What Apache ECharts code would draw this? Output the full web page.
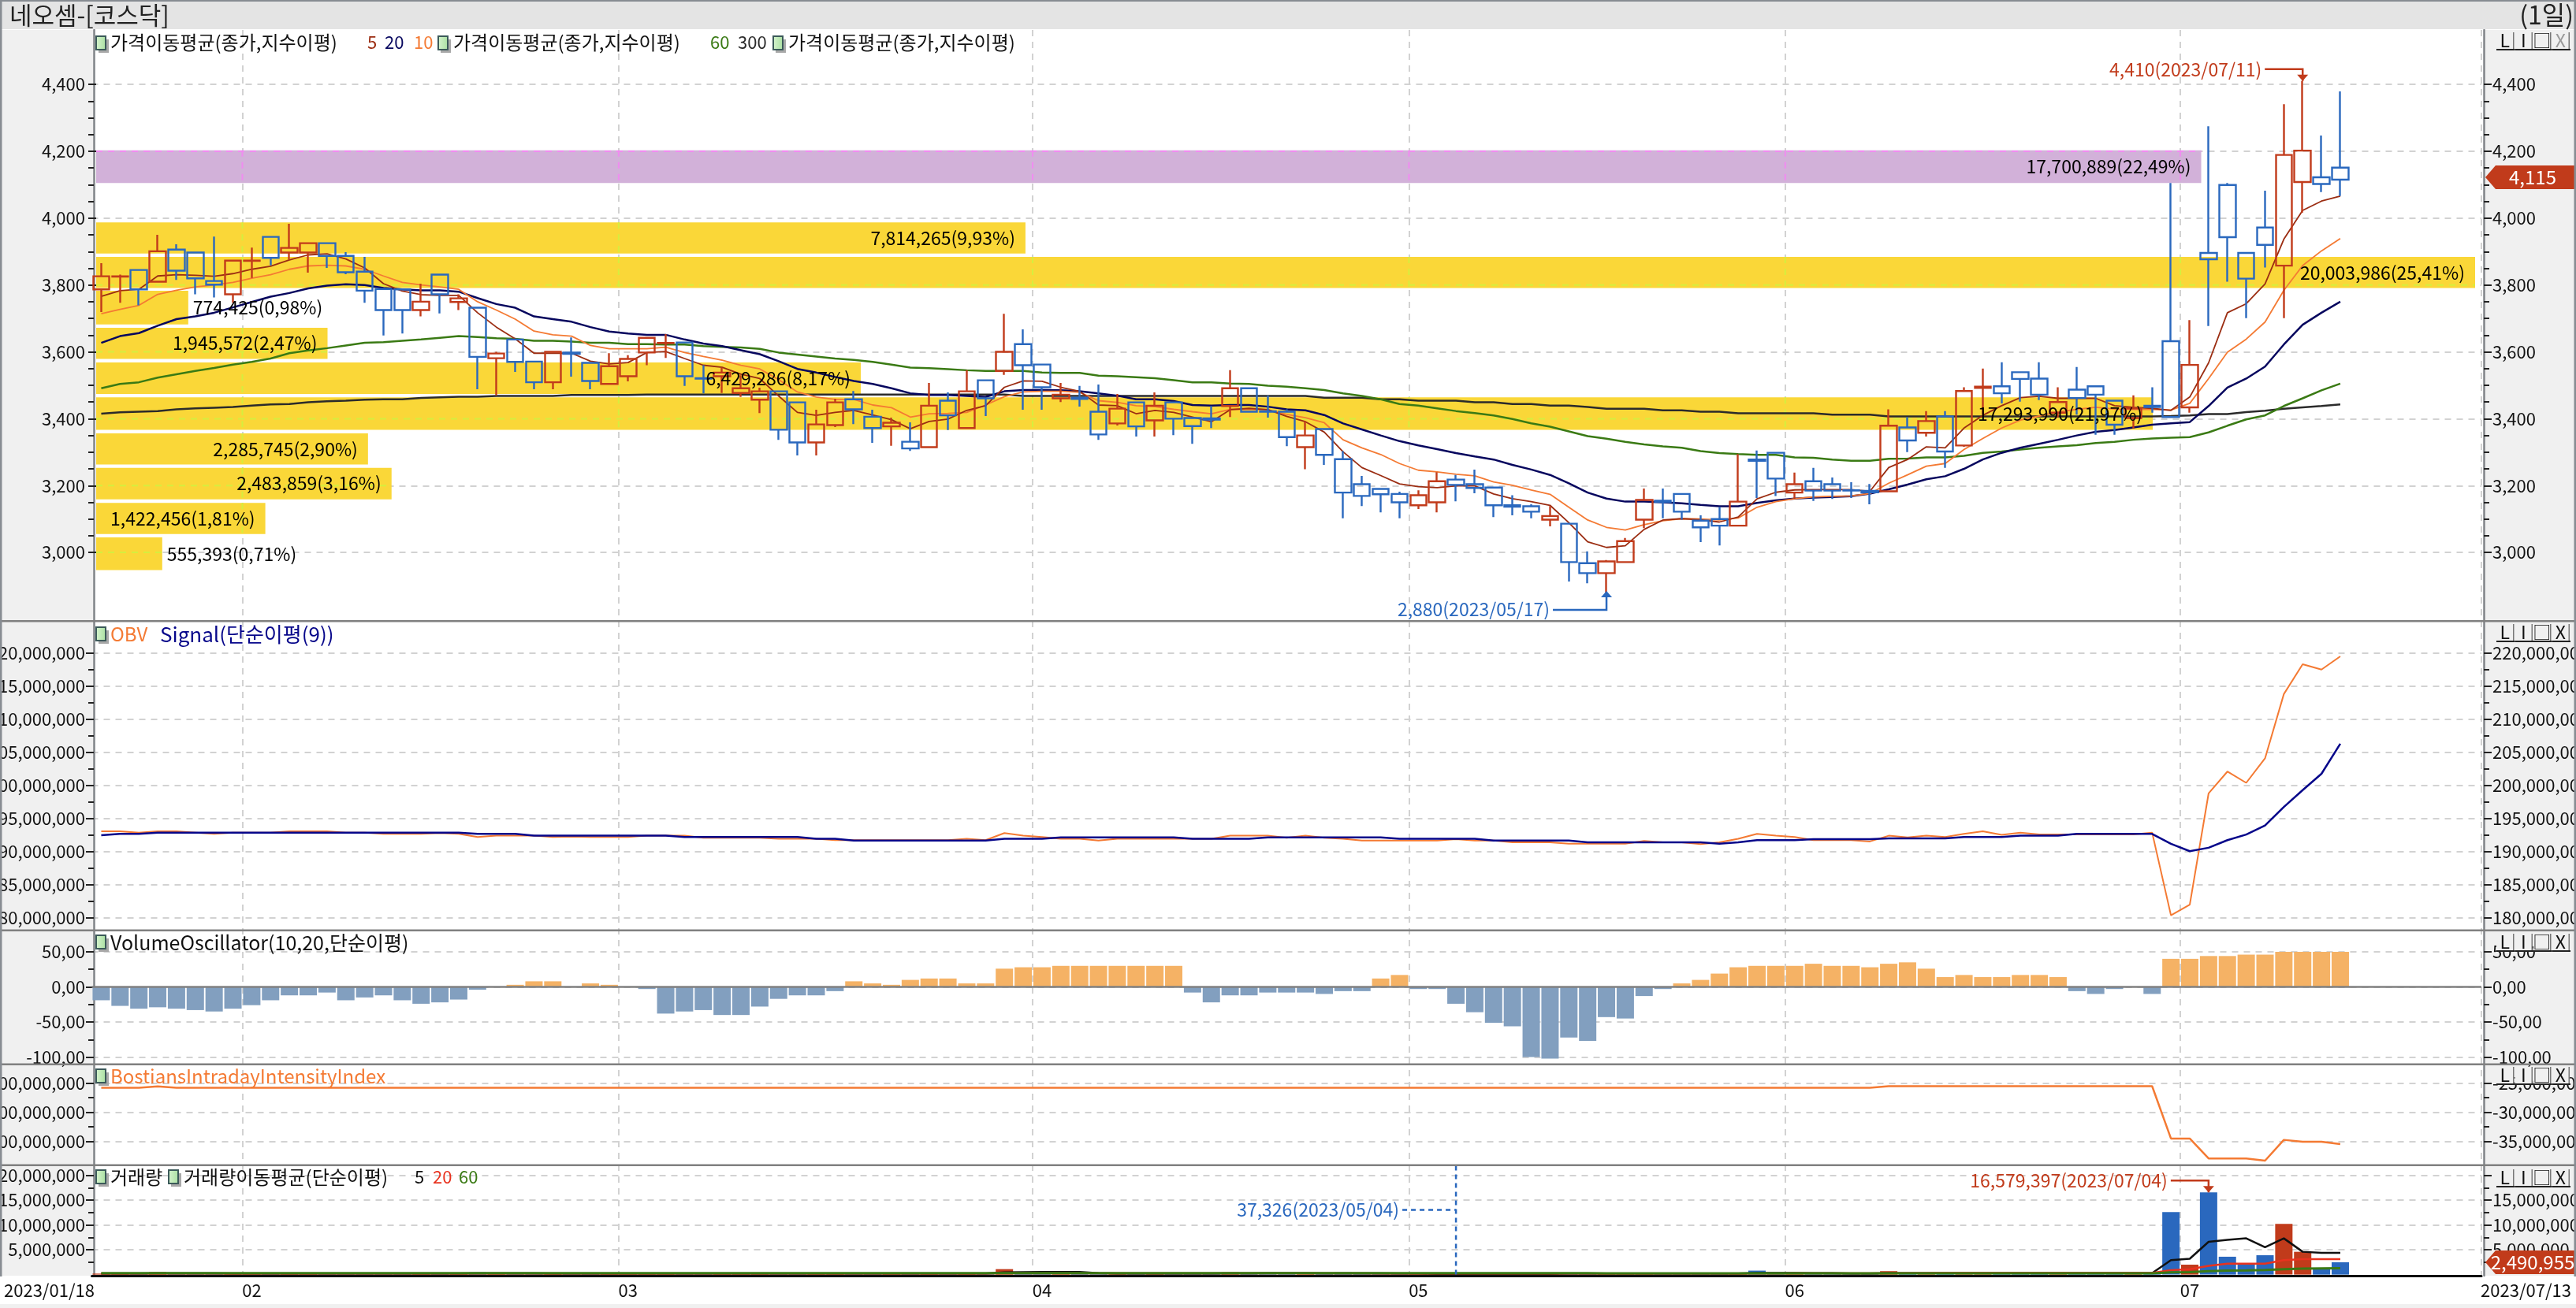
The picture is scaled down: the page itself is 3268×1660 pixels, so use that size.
<!DOCTYPE html>
<html>
<head>
<meta charset="utf-8">
<title>네오셈</title>
<script src="https://cdn.jsdelivr.net/npm/echarts@6/dist/echarts.min.js"></script>
<style>
html,body{margin:0;padding:0;background:#fff}
#main{width:3268px;height:1660px}
</style>
</head>
<body>
<div id="main"></div>
<script>
var dates = ['01/18','01/19','01/20','01/25','01/26','01/27','01/30','01/31',
	'02/01','02/02','02/03','02/06','02/07','02/08','02/09','02/10','02/13','02/14','02/15','02/16','02/17','02/20','02/21','02/22','02/23','02/24','02/27','02/28',
	'03/02','03/03','03/06','03/07','03/08','03/09','03/10','03/13','03/14','03/15','03/16','03/17','03/20','03/21','03/22','03/23','03/24','03/27','03/28','03/29','03/30','03/31',
	'04/03','04/04','04/05','04/06','04/07','04/10','04/11','04/12','04/13','04/14','04/17','04/18','04/19','04/20','04/21','04/24','04/25','04/26','04/27','04/28',
	'05/02','05/03','05/04','05/08','05/09','05/10','05/11','05/12','05/15','05/16','05/17','05/18','05/19','05/22','05/23','05/24','05/25','05/26','05/30','05/31',
	'06/01','06/02','06/05','06/07','06/08','06/09','06/12','06/13','06/14','06/15','06/16','06/19','06/20','06/21','06/22','06/23','06/26','06/27','06/28','06/29','06/30',
	'07/03','07/04','07/05','07/06','07/07','07/10','07/11','07/12','07/13'];
var blankBars = ['','','','','','',''];
var monthStarts = [8,28,50,70,90,111];
var weekStarts = [3,6,8,11,16,21,26,28,30,35,40,45,50,55,60,65,70,73,78,83,88,90,92,96,101,106,111,116];

var opens = [3787,3825,3845,3810,3906,3897,3812,3772,3872,3944,3897,3897,3925,3887,3840,3788,3787,3725,3831,3749,
	3732,3581,3637,3571,3509,3598,3567,3504,3527,3598,3626,3628,3521,3527,3477,3457,3482,3449,3329,3381,
	3458,3406,3377,3331,3315,3454,3372,3515,3543,3623,3562,3461,3463,3421,3386,3449,3395,3449,3402,3401,
	3438,3491,3422,3421,3315,3369,3279,3204,3190,3175,3141,3150,3218,3204,3194,3141,3138,3098,3086,2968,
	2938,2971,3098,3155,3175,3095,3100,3080,3278,3298,3179,3213,3204,3186,3184,3183,3374,3358,3407,3320,
	3492,3497,3539,3520,3418,3487,3497,3454,3402,3439,3632,3434,3896,4099,3896,3972,3858,4108,4122,4151];
var closes = [3826,3826,3787,3901,3843,3820,3801,3873,3873,3881,3911,3925,3887,3838,3783,3725,3725,3750,3772,3760,
	3585,3595,3570,3509,3600,3594,3513,3557,3579,3642,3627,3527,3520,3538,3491,3482,3367,3329,3383,3449,
	3428,3372,3388,3311,3439,3410,3482,3461,3600,3560,3494,3472,3459,3353,3430,3377,3439,3400,3378,3397,
	3491,3421,3421,3345,3350,3292,3179,3169,3174,3150,3171,3213,3202,3193,3141,3137,3122,3109,2971,2938,
	2973,3034,3157,3151,3122,3075,3080,3152,3274,3221,3204,3185,3185,3185,3180,3379,3335,3393,3302,3483,
	3496,3476,3519,3472,3450,3462,3472,3382,3431,3435,3405,3561,3877,3943,3819,3920,4189,4202,4102,4115];
var lows = [3719,3747,3739,3810,3815,3772,3763,3747,3821,3859,3876,3837,3851,3832,3747,3649,3655,3706,3715,3725,
	3488,3470,3540,3488,3488,3526,3488,3504,3512,3560,3582,3498,3476,3477,3465,3417,3337,3290,3290,3375,
	3384,3328,3319,3304,3315,3366,3372,3408,3531,3427,3427,3450,3436,3337,3380,3347,3347,3351,3325,3372,
	3405,3421,3403,3318,3249,3262,3102,3139,3120,3102,3130,3120,3153,3177,3106,3111,3102,3078,2913,2908,
	2880,2971,3073,3102,3098,3031,3021,3080,3163,3169,3160,3154,3160,3163,3144,3183,3300,3347,3253,3316,
	3412,3446,3451,3456,3404,3412,3352,3352,3371,3418,3405,3418,3677,3810,3701,3852,3701,4016,4078,4066];
var highs = [3865,3831,3845,3950,3922,3897,3945,3873,3912,3944,3983,3925,3925,3898,3884,3788,3787,3804,3831,3772,
	3732,3600,3637,3571,3600,3643,3567,3596,3590,3642,3653,3628,3560,3553,3530,3493,3482,3449,3427,3460,
	3483,3427,3403,3389,3507,3479,3545,3515,3714,3667,3562,3507,3498,3502,3474,3449,3479,3449,3402,3438,
	3545,3491,3469,3428,3392,3369,3303,3229,3190,3182,3186,3240,3232,3248,3194,3171,3144,3139,3086,3003,
	2977,3043,3191,3191,3175,3111,3136,3294,3305,3298,3239,3253,3224,3210,3205,3428,3405,3423,3423,3494,
	3550,3569,3539,3569,3494,3555,3497,3454,3470,3494,4105,3695,4275,4105,3896,4082,4341,4410,4247,4379];

var ma5 = [3766,3783,3787,3827,3831,3829,3826,3834,3847,3856,3875,3890,3893,3878,3851,3804,3782,3771,3769,3769,
	3717,3674,3639,3596,3596,3596,3572,3564,3568,3598,3601,3580,3560,3554,3533,3520,3468,3419,3410,3419,
	3425,3411,3397,3370,3392,3399,3425,3439,3494,3513,3512,3494,3482,3441,3439,3415,3425,3419,3405,3391,
	3427,3431,3427,3407,3391,3360,3301,3254,3230,3205,3197,3194,3199,3199,3175,3161,3152,3141,3089,3032,
	3015,3020,3069,3097,3101,3098,3091,3106,3160,3180,3187,3188,3188,3188,3183,3254,3278,3316,3313,3372,
	3410,3439,3463,3467,3461,3461,3461,3439,3434,3431,3425,3465,3567,3717,3744,3803,3937,4023,4051,4066];
var ma10 = [3714,3727,3739,3772,3784,3794,3800,3808,3820,3831,3847,3857,3859,3857,3847,3827,3808,3800,3794,3787,
	3750,3725,3698,3662,3651,3647,3619,3609,3609,3609,3614,3598,3586,3575,3560,3549,3517,3480,3465,3458,
	3458,3441,3433,3405,3415,3416,3419,3441,3466,3480,3482,3482,3479,3454,3449,3439,3436,3428,3421,3415,
	3428,3428,3427,3413,3403,3388,3337,3313,3293,3266,3246,3241,3234,3229,3211,3201,3187,3174,3135,3097,
	3075,3067,3083,3095,3101,3100,3097,3103,3135,3152,3161,3166,3168,3169,3176,3207,3232,3258,3266,3308,
	3341,3372,3396,3408,3420,3428,3434,3429,3428,3428,3426,3446,3520,3599,3638,3689,3784,3858,3902,3939];
var ma20 = [3627,3647,3656,3678,3698,3706,3717,3733,3749,3765,3776,3790,3798,3802,3800,3791,3787,3784,3784,3780,
	3761,3743,3732,3706,3698,3690,3674,3661,3655,3651,3651,3637,3625,3617,3605,3593,3572,3549,3538,3525,
	3513,3504,3491,3476,3471,3471,3468,3465,3482,3486,3486,3485,3482,3476,3469,3458,3458,3453,3441,3439,
	3441,3441,3436,3428,3425,3411,3386,3368,3350,3333,3320,3309,3297,3287,3278,3262,3248,3232,3207,3179,
	3161,3152,3152,3150,3147,3142,3138,3138,3148,3156,3161,3164,3166,3168,3176,3189,3203,3219,3228,3250,
	3278,3298,3313,3325,3337,3350,3361,3366,3374,3382,3386,3390,3438,3493,3520,3556,3622,3681,3717,3750];
var ma60 = [3491,3504,3509,3523,3533,3543,3552,3562,3570,3580,3596,3604,3611,3619,3627,3629,3633,3637,3642,3647,
	3644,3641,3639,3633,3633,3631,3627,3627,3623,3623,3622,3622,3617,3615,3613,3609,3598,3592,3586,3580,
	3576,3570,3562,3553,3551,3548,3545,3543,3543,3543,3538,3537,3537,3529,3527,3524,3521,3515,3509,3509,
	3505,3504,3499,3496,3491,3486,3476,3468,3458,3444,3439,3431,3423,3417,3410,3399,3386,3376,3362,3348,
	3340,3331,3323,3317,3313,3303,3297,3294,3292,3292,3284,3283,3278,3274,3274,3280,3281,3284,3284,3289,
	3298,3302,3308,3313,3317,3321,3327,3331,3337,3341,3343,3345,3359,3379,3398,3410,3438,3461,3485,3505];
var ma300 = [3415,3419,3421,3423,3428,3431,3433,3435,3439,3443,3444,3449,3452,3454,3457,3458,3458,3462,3464,3466,
	3466,3468,3468,3468,3468,3471,3471,3471,3471,3472,3472,3472,3472,3472,3472,3472,3472,3472,3472,3472,
	3472,3472,3472,3472,3472,3472,3472,3472,3472,3468,3468,3468,3468,3468,3468,3468,3468,3468,3468,3468,
	3468,3468,3468,3468,3468,3463,3463,3463,3458,3458,3454,3454,3454,3449,3449,3444,3444,3439,3439,3435,
	3430,3430,3430,3425,3425,3421,3421,3416,3416,3416,3416,3416,3412,3412,3412,3407,3407,3407,3407,3407,
	3407,3407,3407,3407,3407,3407,3407,3407,3407,3407,3408,3410,3414,3414,3420,3424,3430,3434,3438,3443];

// 매물대
var profileLow = [4105,3894,3791,3682,3579,3474,3367,3263,3159,3055,2947];
var profileHigh = [4203,3987,3884,3783,3672,3568,3464,3356,3253,3148,3045];
var profileVolume = [17700889,7814265,20003986,774425,1945572,6429286,17293990,2285745,2483859,1422456,555393];
var profileLabel = ['17,700,889(22,49%)','7,814,265(9,93%)','20,003,986(25,41%)','774,425(0,98%)','1,945,572(2,47%)','6,429,286(8,17%)','17,293,990(21,97%)','2,285,745(2,90%)','2,483,859(3,16%)','1,422,456(1,81%)','555,393(0,71%)'];

// OBV, million
var obv = [193.09,193.09,192.89,193.09,193.09,192.89,192.69,192.89,192.89,192.89,193.09,193.09,193.09,192.89,192.89,192.69,192.69,192.69,192.82,192.69,
	192.22,192.42,192.42,192.42,192.22,192.29,192.22,192.22,192.22,192.42,192.42,192.42,192.09,192.09,192.09,192.09,191.95,191.95,191.95,191.75,
	191.75,191.75,191.75,191.75,191.75,191.75,191.95,191.75,192.82,192.42,192.22,191.95,191.95,191.68,191.95,191.95,191.95,191.95,191.95,191.95,
	192.42,192.42,192.42,192.09,192.42,192.09,191.95,191.68,191.68,191.68,191.68,191.68,191.89,191.68,191.68,191.42,191.42,191.42,191.22,191.22,
	191.22,191.22,191.62,191.42,191.42,191.15,191.42,191.95,192.69,192.42,192.22,191.75,191.75,191.75,191.55,192.42,192.15,192.42,192.22,192.69,
	193.09,192.55,192.89,192.62,192.62,192.62,192.62,192.62,192.62,192.89,180.4,182,198.8,202.1,200.4,204.1,213.8,218.3,217.5,219.5];
var obvSignal = [192.49,192.69,192.69,192.89,192.89,192.89,192.89,192.89,192.89,192.89,192.89,192.89,192.89,192.89,192.89,192.89,192.89,192.89,192.89,192.89,
	192.69,192.69,192.69,192.42,192.42,192.42,192.42,192.42,192.42,192.42,192.42,192.22,192.22,192.22,192.22,192.22,192.22,192.22,191.95,191.95,
	191.68,191.68,191.68,191.68,191.68,191.68,191.68,191.68,191.95,191.95,191.95,192.15,192.15,192.15,192.15,192.15,192.15,192.15,191.95,191.95,
	191.95,191.95,192.15,192.15,192.15,192.15,192.15,192.15,192.15,191.95,191.95,191.95,191.95,191.95,191.68,191.68,191.68,191.68,191.68,191.42,
	191.42,191.42,191.42,191.42,191.42,191.42,191.22,191.42,191.75,191.75,191.75,191.89,191.89,191.89,191.89,192.02,192.02,192.02,192.02,192.22,
	192.22,192.22,192.42,192.42,192.42,192.69,192.69,192.69,192.69,192.69,191.2,190.08,190.6,191.75,192.6,193.96,196.76,199.3,201.77,206.3];

var volumeOsc = [-19,-27,-31,-29,-31,-33,-35,-31,-26,-19,-12,-12,-8,-19,-15,-12,-19,-24,-22,-18,
	-4,0,3,8,8,0,5,3,0,-3,-38,-35,-33,-40,-40,-28,-17,-12,-12,-6,
	8,5,3,10,12,12,5,5,26,28,28,30,30,30,30,30,30,30,-8,-22,
	-12,-12,-8,-8,-8,-10,-6,-6,12,17,-3,-3,-24,-36,-51,-56,-100,-102,-72,-77,
	-43,-45,-13,-3,5,10,19,28,30,30,30,33,30,30,28,33,35,26,14,17,
	14,14,17,17,14,-6,-10,-3,0,-10,40,40,44,44,46,46,50,50,50,50];

// BostiansIntradayIntensityIndex, million
var bii = [-25.76,-25.76,-25.76,-25.55,-25.76,-25.76,-25.76,-25.76,-25.76,-25.76,-25.76,-25.76,-25.76,-25.76,-25.76,-25.76,-25.76,-25.76,-25.76,-25.76,
	-25.76,-25.76,-25.76,-25.76,-25.76,-25.76,-25.76,-25.76,-25.76,-25.76,-25.76,-25.76,-25.76,-25.76,-25.76,-25.76,-25.76,-25.76,-25.76,-25.76,
	-25.76,-25.76,-25.76,-25.76,-25.76,-25.76,-25.76,-25.76,-25.76,-25.76,-25.76,-25.76,-25.76,-25.76,-25.76,-25.76,-25.76,-25.76,-25.76,-25.76,
	-25.76,-25.76,-25.76,-25.76,-25.76,-25.76,-25.76,-25.76,-25.76,-25.76,-25.76,-25.76,-25.76,-25.76,-25.76,-25.76,-25.76,-25.76,-25.76,-25.76,
	-25.76,-25.76,-25.76,-25.76,-25.76,-25.76,-25.76,-25.76,-25.76,-25.76,-25.76,-25.76,-25.76,-25.76,-25.76,-25.5,-25.5,-25.5,-25.5,-25.5,
	-25.5,-25.5,-25.5,-25.5,-25.5,-25.5,-25.5,-25.5,-25.5,-25.5,-34.54,-34.54,-37.98,-37.98,-37.98,-38.36,-34.77,-35.08,-35.08,-35.5];

// volume, million
var volumes = [0.2,0.15,0.2,0.5,0.2,0.15,0.2,0.15,0.2,0.15,0.2,0.2,0.15,0.2,0.15,0.2,0.2,0.15,0.2,0.15,
	0.45,0.2,0.15,0.2,0.15,0.2,0.15,0.2,0.15,0.2,0.15,0.2,0.15,0.2,0.15,0.2,0.15,0.2,0.15,0.2,
	0.15,0.2,0.15,0.2,0.2,0.15,0.2,0.3,1.1,0.5,0.5,0.5,0.3,0.2,0.15,0.2,0.15,0.2,0.15,0.2,
	0.45,0.2,0.45,0.2,0.15,0.2,0.45,0.2,0.15,0.2,0.15,0.1,0.037,0.1,0.15,0.2,0.15,0.2,0.3,0.2,
	0.15,0.2,0.3,0.2,0.15,0.2,0.3,0.2,0.8,0.3,0.2,0.15,0.2,0.15,0.2,0.7,0.3,0.2,0.3,0.3,
	0.3,0.3,0.3,0.3,0.3,0.3,0.3,0.3,0.3,0.3,12.6,2.0,16.579397,3.6,2.2,3.9,10.2,4.6,1.3,2.490955];
var volMa5 = [0.2,0.2,0.2,0.25,0.25,0.25,0.25,0.2,0.2,0.2,0.2,0.2,0.2,0.2,0.2,0.2,0.2,0.2,0.2,0.2,
	0.25,0.25,0.25,0.25,0.2,0.2,0.2,0.2,0.2,0.2,0.2,0.2,0.2,0.2,0.2,0.2,0.2,0.2,0.2,0.2,
	0.2,0.2,0.2,0.2,0.2,0.2,0.2,0.2,0.45,0.5,0.55,0.55,0.55,0.3,0.2,0.2,0.2,0.2,0.2,0.2,
	0.25,0.25,0.3,0.3,0.3,0.25,0.25,0.25,0.25,0.2,0.2,0.15,0.15,0.15,0.15,0.15,0.15,0.15,0.2,0.2,
	0.2,0.2,0.2,0.2,0.2,0.2,0.2,0.2,0.35,0.35,0.35,0.3,0.3,0.2,0.2,0.3,0.3,0.3,0.3,0.3,
	0.3,0.3,0.3,0.3,0.3,0.3,0.3,0.3,0.3,0.3,2.9,3.2,6.6,7,7.3,5.5,7.3,4.6,4.4,4.4];
var volMa20 = [0.2,0.2,0.2,0.2,0.2,0.2,0.2,0.2,0.2,0.2,0.2,0.2,0.2,0.2,0.2,0.2,0.2,0.2,0.2,0.2,
	0.2,0.2,0.2,0.2,0.2,0.2,0.2,0.2,0.2,0.2,0.2,0.2,0.2,0.2,0.2,0.2,0.2,0.2,0.2,0.2,
	0.2,0.2,0.2,0.2,0.2,0.2,0.2,0.2,0.25,0.25,0.25,0.25,0.25,0.25,0.25,0.25,0.25,0.25,0.25,0.25,
	0.25,0.25,0.25,0.25,0.25,0.25,0.25,0.25,0.2,0.2,0.2,0.2,0.2,0.2,0.2,0.2,0.2,0.2,0.2,0.2,
	0.2,0.2,0.2,0.2,0.2,0.2,0.2,0.2,0.2,0.2,0.25,0.25,0.25,0.25,0.25,0.25,0.3,0.3,0.35,0.35,
	0.35,0.35,0.35,0.35,0.35,0.35,0.35,0.35,0.35,0.35,0.9,1.1,1.75,2.2,2.2,2.2,2.9,3.1,3.1,3.1];
var volMa60 = [0.3,0.3,0.3,0.3,0.3,0.3,0.3,0.3,0.3,0.3,0.3,0.3,0.3,0.3,0.3,0.3,0.3,0.3,0.3,0.3,
	0.3,0.3,0.3,0.3,0.3,0.3,0.3,0.3,0.3,0.3,0.3,0.3,0.3,0.3,0.3,0.3,0.3,0.3,0.3,0.3,
	0.3,0.3,0.3,0.3,0.3,0.3,0.3,0.3,0.3,0.3,0.3,0.3,0.3,0.3,0.3,0.3,0.3,0.3,0.3,0.3,
	0.3,0.3,0.3,0.3,0.3,0.3,0.3,0.3,0.3,0.3,0.3,0.3,0.3,0.3,0.3,0.3,0.3,0.3,0.3,0.3,
	0.25,0.25,0.25,0.25,0.25,0.25,0.25,0.25,0.25,0.25,0.25,0.25,0.25,0.25,0.25,0.25,0.25,0.25,0.25,0.25,
	0.25,0.25,0.25,0.25,0.25,0.25,0.25,0.25,0.25,0.25,0.45,0.5,0.7,0.8,0.85,0.95,1.1,1.2,1.25,1.3];

var priceTicks = [3000,3200,3400,3600,3800,4000,4200,4400];
var priceMinor = [3050,3100,3150,3250,3300,3350,3450,3500,3550,3650,3700,3750,3850,3900,3950,4050,4100,4150,4250,4300,4350];
var obvTicks = [180,185,190,195,200,205,210,215,220];
var obvMinor = [182.5,187.5,192.5,197.5,202.5,207.5,212.5,217.5];
var oscTicks = [-100,-50,0,50];
var oscMinor = [-75,-25,25];
var biiTicks = [-35,-30,-25];
var biiMinor = [-32.5,-27.5];
var biiLeftLabels = {'-35':'-3,500,000,000','-30':'-3,000,000,000','-25':'-2,500,000,000'};
var volTicks = [5,10,15,20];
var volMinor = [2.5,7.5,12.5,17.5];

var RED = '#C13B1B', BLUE = '#2A68BE', GRID = '#D2D2D2';
var FONT = '"Noto Sans CJK KR"';
var L = 116.5, W = 3031.5;
var UP = '#9B2D12';

function comma(v){ return Math.round(v).toLocaleString('en-US'); }
function million(v){ return comma(v) + ',000,000'; }
function decimal2(v){ return v.toFixed(2).replace('.', ','); }

var grids = [
	{left:L, width:W, top:38, height:750, outerBoundsMode:'none'},
	{left:L, width:W, top:788, height:392.7, outerBoundsMode:'none'},
	{left:L, width:W, top:1180.7, height:170, outerBoundsMode:'none'},
	{left:L, width:W, top:1350.7, height:127.9, outerBoundsMode:'none'},
	{left:L, width:W, top:1478.6, height:140.4, outerBoundsMode:'none'},
	{left:L, width:W, top:38, height:1581, outerBoundsMode:'none'}
];

var allBars = dates.concat(blankBars);
var xAxes = [];
for (var g = 0; g < 5; g++) {
	xAxes.push({type:'category', gridIndex:g, data:allBars, show:false, boundaryGap:true});
}
// frame axis: month gridlines through every panel, week ticks and month labels
xAxes.push({
	type:'category', gridIndex:5, data:allBars, boundaryGap:true, position:'bottom',
	axisLine:{onZero:false, lineStyle:{color:'#111', width:3}},
	axisTick:{length:8, lineStyle:{color:'#111', width:2}, interval:function(i){ return weekStarts.indexOf(i) >= 0; }},
	splitLine:{show:true, interval:function(i){ return monthStarts.indexOf(i) >= 0; }, lineStyle:{color:GRID, width:2, type:[8,7]}},
	axisLabel:{
		margin:8, fontFamily:FONT, fontSize:22, color:'#111',
		interval:function(i){ return monthStarts.indexOf(i) >= 0; },
		formatter:function(v){ return v.slice(0,2); }
	}
});
// volume profile runs on its own value scale
xAxes.push({type:'value', gridIndex:0, show:false, min:-36455, max:20057003});

function panelAxes(g, min, max, ticks, minor, fmtLeft, fmtRight) {
	function ax(pos, off, withSplit, fmt) {
		return {
			type:'value', gridIndex:g, position:pos, offset:off, min:min, max:max, scale:true,
			axisLine:{show:false},
			axisTick:{show:true, length:10, customValues:ticks, lineStyle:{color:'#222', width:2}},
			axisLabel:{show:true, customValues:ticks, margin:11, fontFamily:FONT, fontSize:22, color:'#111', formatter:fmt},
			splitLine:{show:withSplit, lineStyle:{color:GRID, width:2, type:[8,7]}}
		};
	}
	function mn(pos, off) {
		return {
			type:'value', gridIndex:g, position:pos, offset:off, min:min, max:max, scale:true,
			axisLine:{show:false},
			axisTick:{show:true, length:7, customValues:minor, lineStyle:{color:'#222', width:2}},
			axisLabel:{show:false}, splitLine:{show:false}
		};
	}
	return [ax('left', -2.5, true, fmtLeft), ax('right', 3, false, fmtRight), mn('left', -2.5), mn('right', 3)];
}

var yAxes = [];
yAxes = yAxes.concat(panelAxes(0, 2795.2, 4562.9, priceTicks, priceMinor, comma, comma));
yAxes = yAxes.concat(panelAxes(1, 178.13, 224.85, obvTicks, obvMinor, million, million));
yAxes = yAxes.concat(panelAxes(2, -110.2, 80.6, oscTicks, oscMinor, decimal2, decimal2));
yAxes = yAxes.concat(panelAxes(3, -39.12, -21.72, biiTicks, biiMinor, function(v){ return biiLeftLabels[v]; }, million));
yAxes = yAxes.concat(panelAxes(4, -0.22, 22.06, volTicks, volMinor, million, function(v){ return v === 20 ? '' : million(v); }));
// frame verticals
yAxes.push({type:'value', gridIndex:5, position:'left', offset:-2.5, min:0, max:1, axisLine:{show:true, lineStyle:{color:'#808488', width:2.5}}, axisTick:{show:false}, axisLabel:{show:false}, splitLine:{show:false}});
yAxes.push({type:'value', gridIndex:5, position:'right', offset:3, min:0, max:1, axisLine:{show:true, lineStyle:{color:'#808488', width:2.5}}, axisTick:{show:false}, axisLabel:{show:false}, splitLine:{show:false}});

function lineSeries(name, g, values, color, width) {
	return {name:name, type:'line', xAxisIndex:g, yAxisIndex:g*4, data:values, symbol:'none', silent:true, z:3,
		lineStyle:{color:color, width:width}, itemStyle:{color:color}, animation:false};
}

function textEl(text, x, y, color, size, align) {
	return {type:'text', style:{text:text, x:x, y:y, fill:color, font:size+'px '+FONT, textAlign:align||'left', align:align||'left', textVerticalAlign:'middle', verticalAlign:'middle'}};
}

var candleData = dates.map(function(d,i){ return [opens[i], closes[i], lows[i], highs[i]]; });

// bands of the volume profile, gridlines show through them in a lighter tint
var profileBand = {
	type:'custom', xAxisIndex:6, yAxisIndex:0, z:1, silent:true, animation:false,
	data:profileVolume.map(function(v,i){ return [v, profileLow[i], profileHigh[i]]; }),
	renderItem:function(p, api){
		var a = api.coord([0, api.value(1)]);
		var b = api.coord([api.value(0), api.value(2)]);
		var purple = p.dataIndex === 0;
		var tint = purple ? '#F08CF0' : '#D6EE3E';
		var kids = [{type:'rect', shape:{x:a[0], y:b[1], width:b[0]-a[0], height:a[1]-b[1]}, style:{fill: purple ? '#D2B1D9' : '#FAD738'}}];
		priceTicks.forEach(function(t){
			if (t > api.value(1) && t < api.value(2)) {
				var y = api.coord([0, t])[1];
				kids.push({type:'line', shape:{x1:a[0], y1:y, x2:b[0], y2:y}, style:{stroke:tint, lineWidth:2, lineDash:[8,7]}});
			}
		});
		monthStarts.forEach(function(i){
			var x = L + i*W/allBars.length;
			if (x < b[0]) kids.push({type:'line', shape:{x1:x, y1:b[1], x2:x, y2:a[1]}, style:{stroke:tint, lineWidth:2, lineDash:[8,7]}});
		});
		return {type:'group', children:kids};
	}
};
var profileText = {
	type:'custom', xAxisIndex:6, yAxisIndex:0, z:6, silent:true, animation:false,
	data:profileVolume.map(function(v,i){ return [v, profileLow[i], profileHigh[i]]; }),
	renderItem:function(p, api){
		var a = api.coord([0, api.value(1)]);
		var b = api.coord([api.value(0), api.value(2)]);
		var inside = b[0]-a[0] > 200;
		return textEl(profileLabel[p.dataIndex], inside ? b[0]-13 : b[0]+6, (a[1]+b[1])/2, '#000', 23, inside ? 'right' : 'left');
	}
};

// peak / trough call-outs
function callout(g, idx, val, text, color, draw) {
	return {
		type:'custom', xAxisIndex:g, yAxisIndex:g*4, z:6, silent:true, animation:false, clip:false,
		data:[[idx, val]],
		renderItem:function(p, api){
			var c = api.coord([api.value(0), api.value(1)]);
			return {type:'group', children:draw(c, text, color)};
		}
	};
}
function arrowDown(c, text, color) {
	var ly = c[1]-15;
	return [
		textEl(text, c[0]-52, ly, color, 23, 'right'),
		{type:'polyline', shape:{points:[[c[0]-48,ly],[c[0],ly],[c[0],c[1]]]}, style:{stroke:color, lineWidth:2.5, fill:'none'}},
		{type:'polygon', shape:{points:[[c[0]-7,c[1]-8],[c[0]+7,c[1]-8],[c[0],c[1]]]}, style:{fill:color}}
	];
}
function arrowUp(c, text, color) {
	var ly = c[1]+22;
	return [
		textEl(text, c[0]-72, ly-1, color, 23, 'right'),
		{type:'polyline', shape:{points:[[c[0]-68,ly],[c[0],ly],[c[0],c[1]]]}, style:{stroke:color, lineWidth:2.5, fill:'none'}},
		{type:'polygon', shape:{points:[[c[0]-7,c[1]+6],[c[0]+7,c[1]+6],[c[0],c[1]-2]]}, style:{fill:color}}
	];
}
function dashedMin(c, text, color) {
	var ly = c[1]-82;
	return [
		textEl(text, c[0]-72, ly, color, 23, 'right'),
		{type:'polyline', shape:{points:[[c[0]-68,ly],[c[0],ly]]}, style:{stroke:color, lineWidth:2.5, fill:'none', lineDash:[6,5]}},
		{type:'polyline', shape:{points:[[c[0],c[1]],[c[0],c[1]-138]]}, style:{stroke:color, lineWidth:2.5, fill:'none', lineDash:[6,5]}}
	];
}
function badge(g, idx, val, text, dy, textX) {
	return {
		type:'custom', xAxisIndex:g, yAxisIndex:g*4, z:8, silent:true, animation:false, clip:false,
		data:[[idx, val]],
		renderItem:function(p, api){
			var y = api.coord([api.value(0), api.value(1)])[1] + dy;
			return {type:'group', children:[
				{type:'polygon', shape:{points:[[3153,y],[3166,y-15],[3268,y-15],[3268,y+15],[3166,y+15]]}, style:{fill:RED}},
				textEl(text, textX, y, '#fff', 24, 'center')
			]};
		}
	};
}

var series = [
	profileBand,
	lineSeries('300', 0, ma300, '#2B2B2B', 2.5),
	lineSeries('60', 0, ma60, '#3A7A14', 2.5),
	lineSeries('20', 0, ma20, '#06065E', 2.5),
	lineSeries('10', 0, ma10, '#F47A33', 1.8),
	lineSeries('5', 0, ma5, UP, 1.8),
	{
		name:'캔들', type:'candlestick', xAxisIndex:0, yAxisIndex:0, data:candleData, barWidth:21, z:4, silent:true, animation:false,
		itemStyle:{color:'rgba(0,0,0,0)', color0:'rgba(0,0,0,0)', borderColor:RED, borderColor0:BLUE, borderWidth:2.4}
	},
	profileText,
	lineSeries('OBV', 1, obv, '#F47A33', 2),
	lineSeries('Signal', 1, obvSignal, '#06068A', 2.5),
	{
		name:'VolumeOscillator', type:'bar', xAxisIndex:2, yAxisIndex:8, data:volumeOsc, barWidth:22, silent:true, animation:false, z:2,
		itemStyle:{color:function(p){ return p.value >= 0 ? '#F5B265' : '#829FBF'; }}
	},
	{
		type:'line', xAxisIndex:2, yAxisIndex:8, data:[], symbol:'none', silent:true, animation:false,
		markLine:{symbol:'none', silent:true, animation:false, label:{show:false}, lineStyle:{color:'#808080', type:'solid', width:2.5}, data:[{yAxis:0}]}
	},
	lineSeries('BostiansIntradayIntensityIndex', 3, bii, '#F47A33', 2.5),
	{
		name:'거래량', type:'bar', xAxisIndex:4, yAxisIndex:16, data:volumes, barWidth:22, silent:true, animation:false, z:2,
		itemStyle:{color:function(p){ return closes[p.dataIndex] >= opens[p.dataIndex] ? RED : BLUE; }}
	},
	lineSeries('5', 4, volMa5, '#111', 2.5),
	lineSeries('20', 4, volMa20, '#E8321E', 2.5),
	lineSeries('60', 4, volMa60, '#3A7A14', 3),
	callout(0, 117, 4410, '4,410(2023/07/11)', RED, arrowDown),
	callout(0, 80, 2880, '2,880(2023/05/17)', BLUE, arrowUp),
	callout(4, 112, 16.579397, '16,579,397(2023/07/04)', RED, arrowDown),
	callout(4, 72, 0.037326, '37,326(2023/05/04)', BLUE, dashedMin),
	badge(0, 119, closes[119], comma(closes[119]), -3, 3213),
	badge(4, 119, volumes[119], '2,490,955', 0, 3213)
];

// ---- window chrome, legends
var chrome = [];
function rect(x,y,w,h,fill,z){ chrome.push({type:'rect', z:z, shape:{x:x,y:y,width:w,height:h}, style:{fill:fill}}); }
function txt(t,x,y,c,s,a,z){ var e = textEl(t,x,y,c,s,a); e.z = z||20; chrome.push(e); }
function icon(x,y){
	rect(x+3,y+4,13,17,'#A8A8A8',20);
	chrome.push({type:'rect', z:21, shape:{x:x,y:y,width:12,height:17}, style:{fill:{type:'linear',x:0,y:0,x2:1,y2:0,colorStops:[{offset:0,color:'#D8F5D0'},{offset:1,color:'#A8DFA0'}]}, stroke:'#3C5A5A', lineWidth:2}});
}
function buttons(y, lastOn){
	var x0 = 3167, w = 23.5;
	var labels = ['L','I','□','X'];
	for (var i = 0; i < 4; i++) {
		rect(x0+i*w, y, w-1, 22, '#F0F0F0', 22);
		rect(x0+i*w+w-2.5, y, 1.5, 22, '#777', 23);
		rect(x0+i*w, y+21, w, 2, '#222', 23);
		txt(labels[i], x0+i*w+w/2-1, y+10, (i === 3 && !lastOn) ? '#9A9A9A' : '#111', 23, 'center', 24);
	}
}
rect(0,38,119,1581,'#F0F0F0',-1);
rect(3152,38,116,1581,'#F0F0F0',-1);
rect(0,0,3268,37,'#E4E4E4',19);
rect(0,0,3268,2,'#878C92',20);
rect(0,0,2.5,1620,'#878C92',25);
rect(3265.5,0,2.5,1620,'#878C92',25);
rect(0,1655,3268,5,'#F0F0F0',25);
[787,1179.5,1349.5,1477.5].forEach(function(y){ rect(0,y,3268,2.5,'#808080',18); });

txt('네오셈-[코스닥]', 12, 19, '#222', 31, 'left');
txt('(1일)', 3265, 19, '#222', 32, 'right');

icon(122,46);
txt('가격이동평균(종가,지수이평)', 140, 54, '#111', 24);
txt('5', 466, 54, UP, 22); txt('20', 488, 54, '#06065E', 22); txt('10', 525, 54, '#F47A33', 22);
icon(556,46);
txt('가격이동평균(종가,지수이평)', 575, 54, '#111', 24);
txt('60', 901, 54, '#3A7A14', 22); txt('300', 936, 54, '#2B2B2B', 22);
icon(981,46);
txt('가격이동평균(종가,지수이평)', 1000, 54, '#111', 24);

icon(122,796);
txt('OBV', 140, 805, '#F47A33', 24);
txt('Signal(단순이평(9))', 203, 805, '#06068A', 26);

icon(122,1187);
txt('VolumeOscillator(10,20,단순이평)', 140, 1196, '#111', 25);

icon(122,1357);
txt('BostiansIntradayIntensityIndex', 140, 1366, '#F47A33', 24);

icon(122,1485);
txt('거래량', 140, 1494, '#111', 24);
icon(214,1485);
txt('거래량이동평균(단순이평)', 233, 1494, '#111', 24);
txt('5', 526, 1494, '#111', 22); txt('20', 549, 1494, '#E8321E', 22); txt('60', 582, 1494, '#3A7A14', 22);

buttons(41, false);
buttons(792, true);
buttons(1185, true);
buttons(1354, true);
buttons(1484, true);

txt('2023/01/18', 5, 1638, '#111', 22, 'left', 26);
txt('2023/07/13', 3262, 1638, '#111', 22, 'right', 26);

var chart = echarts.init(document.getElementById('main'), null, {renderer:'canvas'});
chart.setOption({
	animation:false,
	backgroundColor:'#fff',
	textStyle:{fontFamily:FONT},
	grid:grids,
	xAxis:xAxes,
	yAxis:yAxes,
	series:series,
	graphic:chrome
});
</script>
</body>
</html>
